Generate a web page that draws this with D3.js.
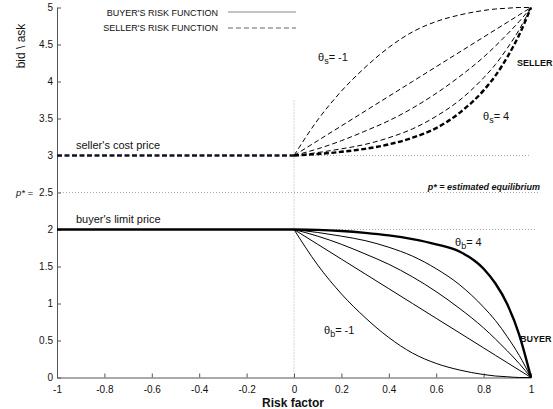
<!DOCTYPE html>
<html>
<head>
<meta charset="utf-8">
<script src="https://cdn.jsdelivr.net/npm/d3@7"></script>
<style>
  body { margin: 0; background: #fff; }
  text { font-family: "Liberation Sans", Arial, sans-serif; fill: #111; }
</style>
</head>
<body>
<div id="chart"></div>
<script>
// risk factor samples (x) shared by all risk functions
var riskFactor = [0, 0.1, 0.2, 0.3, 0.4, 0.5, 0.6, 0.7, 0.8, 0.85, 0.9, 0.95, 1];

// seller's risk functions (ask), theta from -1 up to 4
var sellerThetaM1 = [3, 3.48, 3.87, 4.19, 4.46, 4.67, 4.81, 4.90, 4.96, 4.98, 4.99, 5.00, 5];
var sellerTheta0  = [3, 3.2, 3.4, 3.6, 3.8, 4.0, 4.2, 4.4, 4.6, 4.7, 4.8, 4.9, 5];
var sellerThetaB  = [3, 3.09, 3.20, 3.33, 3.47, 3.64, 3.84, 4.07, 4.33, 4.48, 4.64, 4.81, 5];
var sellerThetaC  = [3, 3.04, 3.09, 3.15, 3.24, 3.36, 3.53, 3.75, 4.05, 4.23, 4.45, 4.70, 5];
var sellerTheta4  = [3, 3.02, 3.05, 3.09, 3.15, 3.24, 3.37, 3.58, 3.88, 4.08, 4.33, 4.63, 5];

// buyer's risk functions (bid)
var buyerThetaM1 = [2, 1.52, 1.13, 0.81, 0.54, 0.33, 0.19, 0.10, 0.04, 0.02, 0.01, 0.00, 0];
var buyerTheta0  = [2, 1.8, 1.6, 1.4, 1.2, 1.0, 0.8, 0.6, 0.4, 0.3, 0.2, 0.1, 0];
var buyerThetaB  = [2, 1.91, 1.80, 1.67, 1.53, 1.36, 1.16, 0.93, 0.67, 0.52, 0.36, 0.19, 0];
var buyerThetaC  = [2, 1.96, 1.91, 1.85, 1.76, 1.64, 1.47, 1.25, 0.95, 0.77, 0.55, 0.30, 0];
var buyerTheta4  = [2, 1.995, 1.98, 1.955, 1.92, 1.87, 1.80, 1.70, 1.47, 1.27, 0.99, 0.58, 0];

var sellerCost = 3, buyerLimit = 2, equilibrium = 2.5;

var xTicks = [-1, -0.8, -0.6, -0.4, -0.2, 0, 0.2, 0.4, 0.6, 0.8, 1];
var yTicks = [0, 0.5, 1, 1.5, 2, 2.5, 3, 3.5, 4, 4.5, 5];

var width = 553, height = 409,
    margin = {top: 7.5, right: 22, bottom: 31.5, left: 57};

var svg = d3.select("#chart").append("svg")
    .attr("width", width)
    .attr("height", height);

var x = d3.scaleLinear().domain([-1, 1]).range([margin.left, width - margin.right]);
var y = d3.scaleLinear().domain([0, 5]).range([height - margin.bottom, margin.top]);

// plain hyphen minus, like the original
var fmt = function (d) { return String(+d.toFixed(1)); };

/* dotted reference lines */
var grid = svg.append("g").attr("stroke", "#aaa").attr("stroke-width", 1).attr("stroke-dasharray", "1,2");
grid.append("line").attr("x1", x(0)).attr("x2", x(0)).attr("y1", y(0)).attr("y2", y(3.75));
grid.append("line").attr("x1", x(0)).attr("x2", x(1)).attr("y1", y(sellerCost)).attr("y2", y(sellerCost));
grid.append("line").attr("x1", x(-1)).attr("x2", x(1.03)).attr("y1", y(equilibrium)).attr("y2", y(equilibrium));
grid.append("line").attr("x1", x(0)).attr("x2", x(1.02)).attr("y1", y(buyerLimit)).attr("y2", y(buyerLimit));

/* axes */
var xAxis = svg.append("g")
    .attr("transform", "translate(0," + y(0) + ")")
    .call(d3.axisBottom(x).tickValues(xTicks).tickSizeInner(-4).tickSizeOuter(0).tickPadding(9)
        .tickFormat(fmt));
var yAxis = svg.append("g")
    .attr("transform", "translate(" + x(-1) + ",0)")
    .call(d3.axisLeft(y).tickValues(yTicks).tickSizeInner(-4).tickSizeOuter(0).tickPadding(4)
        .tickFormat(fmt));
[xAxis, yAxis].forEach(function (a) {
    a.select(".domain").attr("stroke", "#555");
    a.selectAll(".tick line").attr("stroke", "#555");
    a.selectAll(".tick text").attr("font-size", 10).attr("fill", "#222")
        .style("font-family", "'Liberation Sans', Arial, sans-serif");
});
xAxis.selectAll(".tick text").attr("dy", "0.6em");

/* flat prices for negative risk */
svg.append("line")
    .attr("x1", x(-1)).attr("x2", x(0))
    .attr("y1", y(sellerCost)).attr("y2", y(sellerCost))
    .attr("stroke", "#10102a").attr("stroke-width", 2.6).attr("stroke-dasharray", "5,2.5");
svg.append("line")
    .attr("x1", x(-1)).attr("x2", x(0))
    .attr("y1", y(buyerLimit)).attr("y2", y(buyerLimit))
    .attr("stroke", "#000").attr("stroke-width", 2.6);

/* risk function curves */
var line = d3.line()
    .x(function (d) { return x(d[0]); })
    .y(function (d) { return y(d[1]); })
    .curve(d3.curveMonotoneX);

function pts(vals) { return riskFactor.map(function (r, i) { return [r, vals[i]]; }); }

var curves = [
    {v: sellerThetaM1, dash: "5,3", w: 1},
    {v: sellerTheta0,  dash: "5,3", w: 1},
    {v: sellerThetaB,  dash: "5,3", w: 1},
    {v: sellerThetaC,  dash: "5,3", w: 1},
    {v: sellerTheta4,  dash: "5,2.5", w: 2.4},
    {v: buyerThetaM1, dash: null, w: 1},
    {v: buyerTheta0,  dash: null, w: 1},
    {v: buyerThetaB,  dash: null, w: 1},
    {v: buyerThetaC,  dash: null, w: 1},
    {v: buyerTheta4,  dash: null, w: 2.4}
];

svg.append("g").selectAll("path")
    .data(curves)
    .enter().append("path")
    .attr("d", function (d) { return line(pts(d.v)); })
    .attr("fill", "none")
    .attr("stroke", "#000")
    .attr("stroke-width", function (d) { return d.w; })
    .attr("stroke-dasharray", function (d) { return d.dash; });

/* legend */
var legend = svg.append("g");
legend.append("text").attr("x", 218).attr("y", 15.5).attr("text-anchor", "end")
    .attr("font-size", 9).text("BUYER'S RISK FUNCTION");
legend.append("text").attr("x", 218).attr("y", 31).attr("text-anchor", "end")
    .attr("font-size", 9).text("SELLER'S RISK FUNCTION");
legend.append("line").attr("x1", 228).attr("x2", 296).attr("y1", 12).attr("y2", 12)
    .attr("stroke", "#888").attr("stroke-width", 1);
legend.append("line").attr("x1", 228).attr("x2", 296).attr("y1", 28).attr("y2", 28)
    .attr("stroke", "#666").attr("stroke-width", 1).attr("stroke-dasharray", "5,3");

/* labels */
svg.append("text").attr("x", 293).attr("y", 407).attr("text-anchor", "middle")
    .attr("font-size", 12).attr("font-weight", "bold").text("Risk factor");
svg.append("text").attr("transform", "translate(25,46) rotate(-90)").attr("text-anchor", "middle")
    .attr("font-size", 12).text("bid \\ ask");
svg.append("text").attr("x", 16).attr("y", 196).attr("font-size", 9.5)
    .attr("font-style", "italic").text("p* =");

svg.append("text").attr("x", 76).attr("y", 149).attr("font-size", 11).text("seller's cost price");
svg.append("text").attr("x", 76).attr("y", 223).attr("font-size", 11).text("buyer's limit price");

svg.append("text").attr("x", 540).attr("y", 190).attr("text-anchor", "end")
    .attr("font-size", 9).attr("font-style", "italic").attr("font-weight", "bold")
    .text("p* = estimated equilibrium");

svg.append("text").attr("x", 517).attr("y", 66).attr("font-size", 9).attr("font-weight", "bold").text("SELLER");
svg.append("text").attr("x", 520).attr("y", 342).attr("font-size", 9).attr("font-weight", "bold").text("BUYER");

function thetaLabel(px, py, sub, val) {
    var t = svg.append("text").attr("x", px).attr("y", py).attr("font-size", 11);
    t.append("tspan").text("\u03b8");
    t.append("tspan").attr("dy", 3).attr("font-size", 9).text(sub);
    t.append("tspan").attr("dy", -3).text("= " + val);
}
thetaLabel(318, 61, "s", "-1");
thetaLabel(483, 120, "s", "4");
thetaLabel(455, 246, "b", "4");
thetaLabel(324, 334, "b", "-1");
</script>
</body>
</html>
